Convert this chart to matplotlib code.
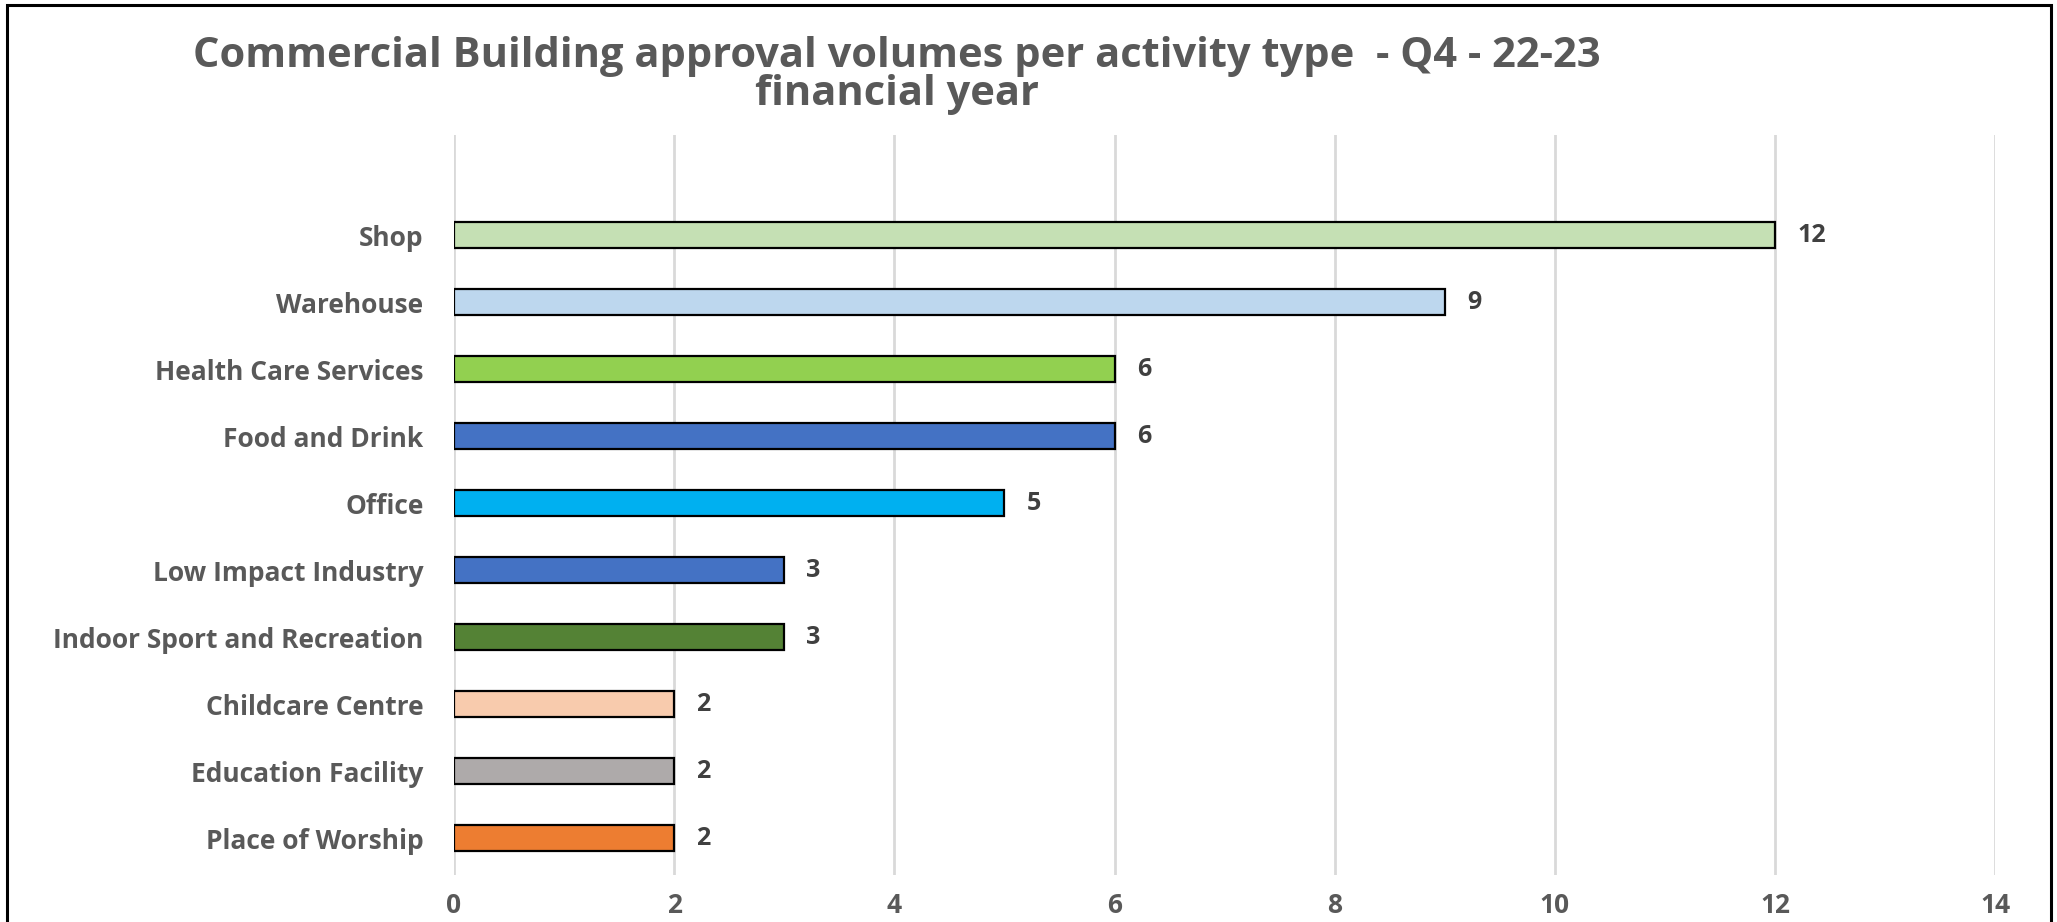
import matplotlib
matplotlib.use('Agg')
import matplotlib.pyplot as plt
from matplotlib.patches import Rectangle

# categories listed bottom -> top
categories = ['Place of Worship', 'Education Facility', 'Childcare Centre',
              'Indoor Sport and Recreation', 'Low Impact Industry', 'Office',
              'Food and Drink', 'Health Care Services', 'Warehouse', 'Shop']
volumes = [2, 2, 2, 3, 3, 5, 6, 6, 9, 12]
bar_colors = ['#ED7D31', '#AEAAAA', '#F8CBAD', '#548235', '#4472C4',
              '#00B0F0', '#4472C4', '#92D050', '#BDD7EE', '#C5E0B4']
x_ticks = [0, 2, 4, 6, 8, 10, 12, 14]

title = ('Commercial Building approval volumes per activity type  - Q4 - 22-23\n'
         'financial year')

plt.rcParams['font.family'] = ['Open Sans', 'DejaVu Sans']
grey = '#595959'

fig = plt.figure(figsize=(20.57, 9.22), dpi=100)
ax = fig.add_axes([0.2207, 0.051, 0.7493, 0.803])

ypos = list(range(len(categories)))
ax.barh(ypos, volumes, height=0.38, color=bar_colors,
        edgecolor='black', linewidth=1.6, zorder=3)

for y, v in zip(ypos, volumes):
    ax.annotate(str(v), (v, y), xytext=(16, 0), textcoords='offset points',
                va='center', ha='left', fontsize=18, fontweight='bold',
                color='#404040')

ax.set_xlim(0, 14)
ax.set_ylim(-0.55, 10.5)
ax.set_xticks(x_ticks)
ax.set_yticks(ypos)
ax.set_yticklabels(categories)
ax.grid(axis='x', color='#D9D9D9', linewidth=2, zorder=0)
ax.tick_params(length=0, labelsize=19, labelcolor=grey)
ax.tick_params(axis='y', pad=22)
ax.tick_params(axis='x', pad=12)
for lab in ax.get_xticklabels() + ax.get_yticklabels():
    lab.set_fontweight('bold')
for s in ax.spines.values():
    s.set_visible(False)

fig.text(0.436, 0.918, title, ha='center', va='center', fontsize=30,
         fontweight='bold', color=grey, linespacing=0.92)

# outer frame, open at the bottom like the cropped screenshot
fig.patches.append(Rectangle((0.0035, -0.05), 0.9935, 1.045,
                             transform=fig.transFigure, fill=False,
                             edgecolor='black', linewidth=2.2))

fig.savefig('out.png', dpi=100)
